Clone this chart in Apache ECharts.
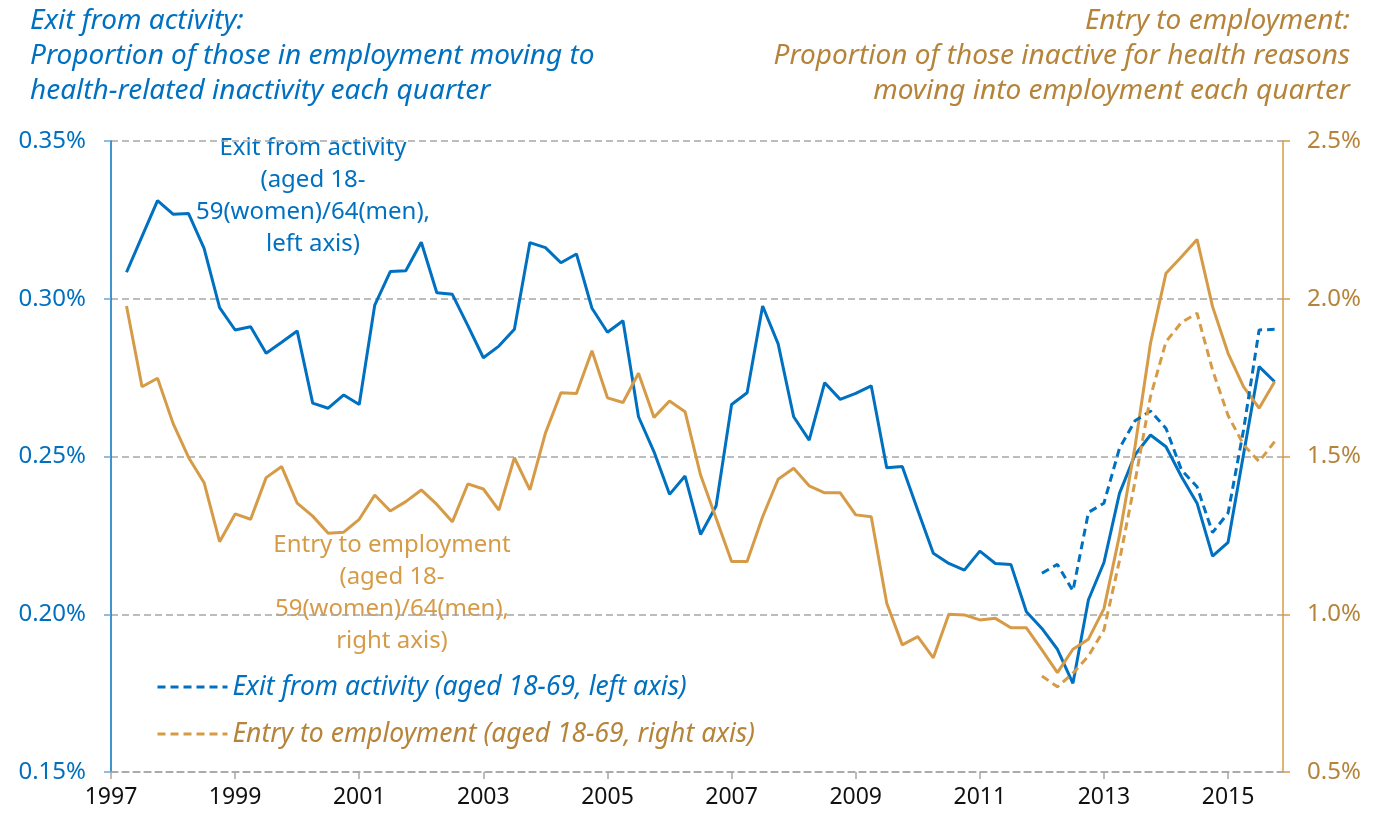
<!DOCTYPE html>
<html style="height: 100%">
<head>
    <meta charset="utf-8">
    <title>Exit from activity and entry to employment</title>
    <script src="https://cdn.jsdelivr.net/npm/echarts@6/dist/echarts.min.js"></script>
</head>
<body style="margin: 0; height: 100%; background: #fff">
    <div id="main" style="width: 1382px; height: 819px"></div>
    <script>
        // Quarters 1997 Q2 .. 2015 Q4
        const quarters = [];
        for (let y = 1997; y <= 2015; y++) {
            for (let q = 1; q <= 4; q++) {
                if (y === 1997 && q === 1) continue;
                quarters.push(y + ' Q' + q);
            }
        }
        // the 18-69 series start in 2012 Q1
        const allAgesStart = quarters.indexOf('2012 Q1');

        // Exit from activity, aged 18-59(women)/64(men), % (left axis)
        const exitCore = [
            0.3084, 0.3198, 0.3311, 0.3268, 0.3270, 0.3160, 0.2972, 0.2901, 0.2911, 0.2827,
            0.2862, 0.2898, 0.2669, 0.2653, 0.2695, 0.2665, 0.2980, 0.3086, 0.3089, 0.3179,
            0.3019, 0.3014, 0.2915, 0.2813, 0.2850, 0.2903, 0.3178, 0.3162, 0.3114, 0.3142,
            0.2970, 0.2894, 0.2930, 0.2626, 0.2515, 0.2380, 0.2438, 0.2253, 0.2343, 0.2665,
            0.2702, 0.2977, 0.2857, 0.2626, 0.2552, 0.2734, 0.2681, 0.2700, 0.2724, 0.2464,
            0.2468, 0.2330, 0.2193, 0.2161, 0.2140, 0.2200, 0.2161, 0.2158, 0.2008, 0.1955,
            0.1889, 0.1781, 0.2046, 0.2164, 0.2383, 0.2505, 0.2568, 0.2531, 0.2436, 0.2352,
            0.2184, 0.2228, 0.2508, 0.2785, 0.2737
        ];
        // Entry to employment, aged 18-59(women)/64(men), % (right axis)
        const entryCore = [
            1.977, 1.721, 1.748, 1.605, 1.497, 1.417, 1.230, 1.318, 1.301, 1.433,
            1.468, 1.352, 1.311, 1.257, 1.260, 1.301, 1.378, 1.327, 1.357, 1.394,
            1.348, 1.293, 1.413, 1.397, 1.330, 1.496, 1.394, 1.574, 1.702, 1.700,
            1.835, 1.686, 1.671, 1.764, 1.624, 1.676, 1.642, 1.441, 1.304, 1.167,
            1.167, 1.309, 1.428, 1.463, 1.407, 1.385, 1.385, 1.315, 1.309, 1.035,
            0.903, 0.929, 0.862, 1.000, 0.998, 0.982, 0.987, 0.957, 0.957, 0.887,
            0.815, 0.889, 0.921, 1.018, 1.250, 1.531, 1.859, 2.081, 2.133, 2.188,
            1.975, 1.827, 1.721, 1.653, 1.737
        ];
        // aged 18-69, from 2012 Q1
        const exitAll = [
            0.2130, 0.2158, 0.2074, 0.2323, 0.2352, 0.2526, 0.2613, 0.2644, 0.2589, 0.2457,
            0.2404, 0.2259, 0.2321, 0.2585, 0.2901, 0.2903
        ];
        const entryAll = [
            0.804, 0.770, 0.813, 0.868, 0.950, 1.170, 1.420, 1.690, 1.864, 1.925,
            1.954, 1.774, 1.630, 1.537, 1.484, 1.547
        ];

        const yearTicks = ['1997', '1999', '2001', '2003', '2005', '2007', '2009', '2011', '2013', '2015'];

        const BLUE = '#0070C0';
        const GOLD = '#D69B47';
        const GOLD_TEXT = '#B5843A';
        const FONT = '"Noto Sans", "Open Sans", sans-serif';

        // x position in years since 1997
        function qx(label) {
            const y = Number(label.slice(0, 4));
            const q = Number(label.slice(6));
            return y - 1997 + (q - 1) / 4;
        }
        function toPoints(values, start) {
            return values.map((v, i) => [qx(quarters[start + i]), v]);
        }

        const chart = echarts.init(document.getElementById('main'));

        chart.setOption({
            animation: false,
            textStyle: { fontFamily: FONT },
            grid: { left: 111, right: 99, top: 141, bottom: 47, containLabel: false },
            legend: {
                orient: 'vertical',
                left: 151,
                top: 668,
                itemWidth: 70,
                itemHeight: 14,
                itemGap: 19,
                selectedMode: false,
                itemStyle: { opacity: 0 },
                lineStyle: { width: 3 },
                textStyle: { fontSize: 26.5, fontStyle: 'italic', fontFamily: FONT, lineHeight: 28 },
                data: [
                    { name: 'Exit from activity (aged 18-69, left axis)', textStyle: { color: BLUE } },
                    { name: 'Entry to employment (aged 18-69, right axis)', textStyle: { color: GOLD_TEXT } }
                ]
            },
            xAxis: {
                type: 'value',
                min: 0,
                max: 18.885,
                interval: 2,
                axisLine: { show: true, lineStyle: { color: '#A6A6A6', width: 1.5, type: [7, 4] } },
                axisTick: { show: true, length: 7, lineStyle: { color: '#A6A6A6', width: 1.5 } },
                axisLabel: {
                    color: '#111',
                    fontSize: 23,
                    margin: 14,
                    showMaxLabel: false,
                    formatter: v => {
                        const s = String(Math.round(v) + 1997);
                        return (Math.abs(v - Math.round(v)) < 1e-6 && yearTicks.includes(s)) ? s : '';
                    }
                },
                splitLine: { show: false }
            },
            yAxis: [
                {
                    type: 'value',
                    min: 0.15,
                    max: 0.35,
                    interval: 0.05,
                    axisLine: { show: true, lineStyle: { color: BLUE, width: 1.5 } },
                    axisTick: { show: true, length: 7, lineStyle: { color: '#6FA5D8', width: 1.5 } },
                    axisLabel: {
                        color: BLUE,
                        fontSize: 24,
                        margin: 25,
                        formatter: v => v.toFixed(2) + '%'
                    },
                    splitLine: { show: true, lineStyle: { color: '#A6A6A6', width: 1.5, type: [7, 4] } }
                },
                {
                    type: 'value',
                    min: 0.5,
                    max: 2.5,
                    interval: 0.5,
                    axisLine: { show: true, lineStyle: { color: GOLD, width: 1.5 } },
                    axisTick: { show: true, length: 7, lineStyle: { color: GOLD, width: 1.5 } },
                    axisLabel: {
                        color: GOLD_TEXT,
                        fontSize: 24,
                        margin: 24,
                        formatter: v => v.toFixed(1) + '%'
                    },
                    splitLine: { show: false }
                }
            ],
            graphic: [
                {
                    type: 'text', x: 30, y: 4,
                    style: {
                        text: 'Exit from activity:\nProportion of those in employment moving to\nhealth-related inactivity each quarter',
                        font: 'italic 28px ' + FONT, fill: BLUE, lineHeight: 35
                    }
                },
                {
                    type: 'text', x: 1350, y: 4,
                    style: {
                        text: 'Entry to employment:\nProportion of those inactive for health reasons\nmoving into employment each quarter',
                        font: 'italic 28px ' + FONT, fill: GOLD_TEXT, lineHeight: 35, align: 'right'
                    }
                },
                {
                    type: 'text', x: 313, y: 132,
                    style: {
                        text: 'Exit from activity\n(aged 18-\n59(women)/64(men),\nleft axis)',
                        font: '24px ' + FONT, fill: BLUE, lineHeight: 32, align: 'center'
                    }
                },
                {
                    type: 'text', x: 392, y: 529,
                    style: {
                        text: 'Entry to employment\n(aged 18-\n59(women)/64(men),\nright axis)',
                        font: '24px ' + FONT, fill: GOLD, lineHeight: 32, align: 'center'
                    }
                }
            ],
            series: [
                {
                    name: 'Exit from activity (aged 18-59(women)/64(men), left axis)',
                    type: 'line',
                    yAxisIndex: 0,
                    symbol: 'none',
                    lineStyle: { color: BLUE, width: 3 },
                    itemStyle: { color: BLUE },
                    data: toPoints(exitCore, 0)
                },
                {
                    name: 'Entry to employment (aged 18-59(women)/64(men), right axis)',
                    type: 'line',
                    yAxisIndex: 1,
                    symbol: 'none',
                    lineStyle: { color: GOLD, width: 3 },
                    itemStyle: { color: GOLD },
                    data: toPoints(entryCore, 0)
                },
                {
                    name: 'Exit from activity (aged 18-69, left axis)',
                    type: 'line',
                    yAxisIndex: 0,
                    symbol: 'none',
                    lineStyle: { color: BLUE, width: 3, type: [8, 5] },
                    itemStyle: { color: BLUE },
                    data: toPoints(exitAll, allAgesStart)
                },
                {
                    name: 'Entry to employment (aged 18-69, right axis)',
                    type: 'line',
                    yAxisIndex: 1,
                    symbol: 'none',
                    lineStyle: { color: GOLD, width: 3, type: [8, 5] },
                    itemStyle: { color: GOLD },
                    data: toPoints(entryAll, allAgesStart)
                }
            ]
        });
    </script>
</body>
</html>
